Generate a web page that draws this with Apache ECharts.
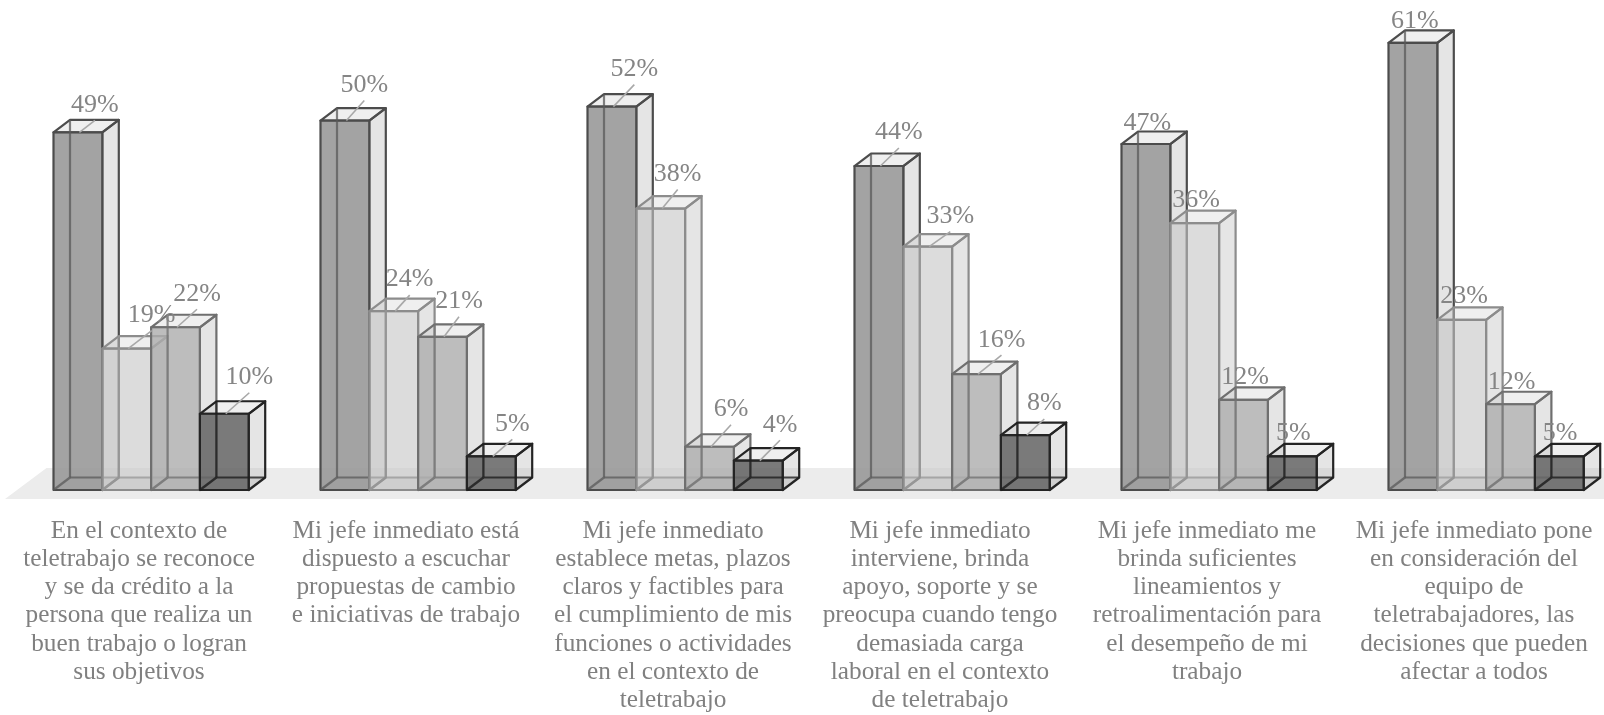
<!DOCTYPE html>
<html><head><meta charset="utf-8">
<style>html,body{margin:0;padding:0;background:#fff}#c{width:1604px;height:715px}</style>
<script src="https://cdn.jsdelivr.net/npm/echarts@6/dist/echarts.min.js"></script>
</head><body><div id="c"></div>
<script>
const categories = [
 "En el contexto de\nteletrabajo se reconoce\ny se da crédito a la\npersona que realiza un\nbuen trabajo o logran\nsus objetivos",
 "Mi jefe inmediato está\ndispuesto a escuchar\npropuestas de cambio\ne iniciativas de trabajo",
 "Mi jefe inmediato\nestablece metas, plazos\nclaros y factibles para\nel cumplimiento de mis\nfunciones o actividades\nen el contexto de\nteletrabajo",
 "Mi jefe inmediato\ninterviene, brinda\napoyo, soporte y se\npreocupa cuando tengo\ndemasiada carga\nlaboral en el contexto\nde teletrabajo",
 "Mi jefe inmediato me\nbrinda suficientes\nlineamientos y\nretroalimentación para\nel desempeño de mi\ntrabajo",
 "Mi jefe inmediato pone\nen consideración del\nequipo de\nteletrabajadores, las\ndecisiones que pueden\nafectar a todos"
];
const seriesA = [48.8, 50.4, 52.3, 44.2, 47.2, 61.0];
const seriesB = [19.3, 24.4, 38.4, 33.2, 36.4, 23.2];
const seriesC = [22.2, 20.9, 5.9, 15.8, 12.3, 11.7];
const seriesD = [10.4, 4.6, 4.0, 7.5, 4.6, 4.6];

// manual label placement, in px from the front-top centre of each bar
const labelShiftA = [[17,-29],[19.4,-37],[22.4,-39],[20,-35],[1.4,-22.3],[2,-23]];
const labelShiftB = [[25,-35],[16,-33],[17,-36],[22.6,-32],[1.3,-25],[2.3,-25.4]];
const labelShiftC = [[21.5,-35],[16.5,-37],[21.5,-39],[25,-36],[1.5,-24],[1.2,-24]];
const labelShiftD = [[25,-38],[21,-34],[21.7,-37.4],[19,-33],[1,-24.6],[0.7,-24.6]];

const styles = [
 {values:seriesA, shift:labelShiftA, front:'rgba(153,153,153,.9)',  stroke:'#4c4c4c', hidden:'rgba(90,90,90,.75)'},
 {values:seriesB, shift:labelShiftB, front:'rgba(198,198,198,.62)', stroke:'#8c8c8c', hidden:'rgba(150,150,150,.75)'},
 {values:seriesC, shift:labelShiftC, front:'rgba(172,172,172,.8)',  stroke:'#6f6f6f', hidden:'rgba(115,115,115,.8)'},
 {values:seriesD, shift:labelShiftD, front:'rgba(99,99,99,.85)',    stroke:'#242424', hidden:'rgba(30,30,30,.8)'}
];

const DX = 16.5, DY = 12.5, PROJ = 12.1, BAR_RATIO = 0.18277, LW = 2.2;
const FONT = '"Liberation Serif", serif';

function geom(api, g, v, b) {
  const band = api.size([1, 0])[0];
  const w = band * BAR_RATIO;
  const c = api.coord([g, v]);
  const zero = api.coord([g, 0]);
  const x0 = c[0] + PROJ - 2 * w + b * w;
  return {x0, x1: x0 + w, top: c[1], base: zero[1], w};
}
function poly(points, style, z2) { return {type:'polygon', shape:{points}, style, z2, silent:true}; }
function line(x1,y1,x2,y2,stroke,lw,z2){ return {type:'line', shape:{x1,y1,x2,y2}, style:{stroke,lineWidth:lw,fill:null}, z2, silent:true}; }

function barRenderer(b, st) {
  return function (params, api) {
    const g = api.value(0), v = api.value(1);
    const {x0,x1,top,base} = geom(api, g, v, b);
    const bk = {
      x0:x0+DX, x1:x1+DX, top:top-DY, base:base-DY
    };
    const edge = {stroke:st.stroke, lineWidth:LW, lineJoin:'round'};
    return {type:'group', children:[
      poly([[x0,base],[x1,base],[bk.x1,bk.base],[bk.x0,bk.base]], {fill:'rgba(0,0,0,.07)', stroke:null}, 1),
      poly([[x1,top],[bk.x1,bk.top],[bk.x1,bk.base],[x1,base]], {fill:'rgba(190,190,190,.4)', ...edge}, 2),
      poly([[x0,top],[x1,top],[bk.x1,bk.top],[bk.x0,bk.top]], {fill:'rgba(190,190,190,.25)', ...edge}, 3),
      poly([[x0,top],[x1,top],[x1,base],[x0,base]], {fill:st.front, ...edge}, 4),
      line(bk.x0,bk.top,bk.x0,bk.base,st.hidden,LW,5),
      line(bk.x0,bk.base,bk.x1,bk.base,st.hidden,LW,5),
      line(x0,base,bk.x0,bk.base,st.hidden,LW,5)
    ]};
  };
}

const floorSeries = {
  type:'custom', data:[[0,0]], silent:true, z:1,
  encode:{x:0,y:1},
  renderItem(params, api) {
    const r = params.coordSys;
    const base = api.coord([0,0])[1];
    return poly([[r.x - 0.5, base + 9],[r.x + 41, base - 22],[r.x + r.width, base - 22],[r.x + r.width, base + 9]],
      {fill:'#ececec', stroke:null}, 0);
  }
};

const barSeries = styles.map((st,b) => ({
  type:'custom', name:'s'+b, z:2+b, silent:true,
  encode:{x:0,y:1},
  data: st.values.map((v,g)=>[g,v]),
  renderItem: barRenderer(b, st)
}));

const labelSeries = styles.map((st,b) => ({
  type:'custom', name:'l'+b, z:10, silent:true,
  encode:{x:0,y:1},
  data: st.values.map((v,g)=>[g,v]),
  renderItem(params, api) {
    const g = api.value(0), v = api.value(1);
    const {x0,w,top} = geom(api, g, v, b);
    const cx = x0 + w/2;
    const [sx,sy] = st.shift[g];
    const lx = cx + sx, ly = top + sy;
    const ch = [{type:'text', style:{text:Math.round(v)+'%', x:lx, y:ly + 1.5, align:'center', verticalAlign:'middle',
       font:'26px '+FONT, fill:'#858585'}, z2:2, silent:true}];
    if (sy < -28) ch.unshift(line(cx+1.5, top, lx, ly+17, '#a8a8a8', 1.6, 1));
    return {type:'group', children:ch};
  }
}));

const chart = echarts.init(document.getElementById('c'), null, {renderer:'canvas'});
chart.setOption({
  animation:false,
  backgroundColor:'#ffffff',
  grid:{left:5.5, width:1602, top:13.55, height:476.45, containLabel:false, outerBoundsMode:'none'},
  xAxis:{type:'category', data:categories, axisLine:{show:false}, axisTick:{show:false}, splitLine:{show:false},
    axisLabel:{interval:0, margin:27, color:'#808080', fontFamily:FONT, fontSize:25.3, lineHeight:28.2, align:'center', verticalAlign:'top', hideOverlap:false}},
  yAxis:{type:'value', min:0, max:65, show:false},
  tooltip:{show:false},
  series:[floorSeries, ...barSeries, ...labelSeries]
});
</script></body></html>
